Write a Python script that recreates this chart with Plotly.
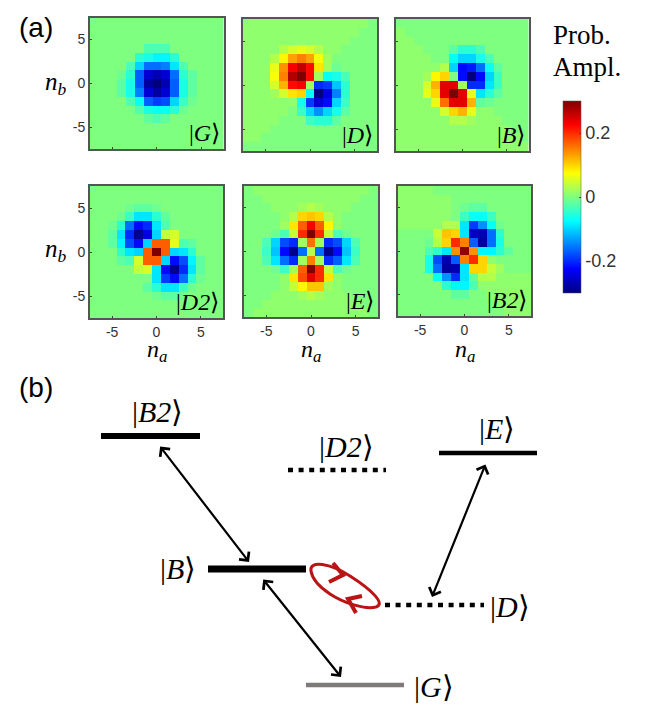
import numpy as np
import plotly.graph_objects as go

W, H = 649, 714
cells = list(range(-7, 8))
rows_top_down = list(range(7, -8, -1))
ticks = [-5, 0, 5]
tick_labels = ["-5", "0", "5"]
cbar_ticks = [-0.2, 0, 0.2]
cbar_labels = ["-0.2", "0", "0.2"]

# amplitudes in hundredths, written from the top row to the bottom row
G = [
 [0,0,0,0,0,0,0,0,0,0,0,0,0,0,0],
 [0,0,0,0,0,0,0,0,0,0,0,0,0,0,0],
 [0,0,0,0,0,0,0,0,0,0,0,0,0,0,0],
 [0,0,0,0,0,0,-3,-3,-3,0,0,0,0,0,0],
 [0,0,0,0,0,-5,-6,-8,-8,-5,0,0,0,0,0],
 [0,0,0,0,-3,-10,-16,-16,-15,-9,-3,0,0,0,0],
 [0,0,0,-1,-5,-17,-25,-27,-25,-16,-5,-2,0,0,0],
 [0,0,0,-2,-6,-17,-28,-30,-27,-17,-6,-2,0,0,0],
 [0,0,0,-2,-6,-15,-25,-28,-25,-17,-6,-2,0,0,0],
 [0,0,0,0,-3,-7,-17,-19,-18,-10,-4,-1,0,0,0],
 [0,0,0,0,0,-3,-6,-7,-7,-5,-1,0,0,0,0],
 [0,0,0,0,0,0,-2,-3,-2,0,0,0,0,0,0],
 [0,0,0,0,0,0,0,0,0,0,0,0,0,0,0],
 [0,0,0,0,0,0,0,0,0,0,0,0,0,0,0],
 [0,0,0,0,0,0,0,0,0,0,0,0,0,0,0],
]
D = [
 [1,1,1,1,1,1,1,1,1,1,1,1,1,1,0],
 [1,1,1,1,1,1,1,1,1,1,1,1,1,0,0],
 [1,1,1,1,1,1,1,1,1,1,1,1,0,0,0],
 [1,1,1,1,3,5,6,5,3,1,1,0,0,0,0],
 [1,1,1,3,8,13,15,13,7,2,0,0,0,0,0],
 [1,1,1,6,14,23,26,22,9,2,-1,0,0,0,0],
 [1,1,1,7,15,27,30,22,2,-7,-6,-3,0,0,0],
 [1,1,1,5,12,22,23,2,-20,-19,-11,-5,0,0,0],
 [1,1,1,2,5,9,10,-7,-30,-24,-15,-5,0,0,0],
 [1,1,1,1,1,1,-6,-19,-25,-22,-10,-4,0,0,0],
 [1,1,1,1,1,0,-4,-10,-14,-10,-6,-2,0,0,0],
 [1,1,1,1,0,0,0,-4,-5,-5,-2,0,0,0,0],
 [1,1,1,0,0,0,0,0,0,0,0,0,0,0,0],
 [1,1,0,0,0,0,0,0,0,0,0,0,0,0,0],
 [0,0,0,0,0,0,0,0,0,0,0,0,0,0,0],
]
B = [
 [0,0,0,0,0,0,0,0,0,0,0,0,0,0,0],
 [1,0,0,0,0,0,0,0,0,0,0,0,0,0,0],
 [1,1,0,0,0,0,0,0,0,0,0,0,0,0,0],
 [1,1,1,0,0,0,-2,-5,-5,-3,0,0,0,0,0],
 [1,1,1,1,0,0,-7,-10,-10,-6,-3,0,0,0,0],
 [1,1,1,1,1,3,-10,-22,-21,-16,-7,-2,0,0,0],
 [1,1,1,2,8,10,0,-22,-30,-22,-10,-4,0,0,0],
 [1,1,1,5,12,24,24,2,-20,-20,-9,-4,0,0,0],
 [1,1,1,6,10,24,30,24,6,-9,-5,-2,0,0,0],
 [1,1,1,1,6,16,24,24,12,-2,-1,0,0,0,0],
 [1,1,1,1,1,5,10,12,6,1,1,0,0,0,0],
 [1,1,1,1,1,1,3,3,2,1,1,1,0,0,0],
 [1,1,1,1,1,1,1,1,1,1,1,1,1,0,0],
 [1,1,1,1,1,1,1,1,1,1,1,1,1,1,0],
 [1,1,1,1,1,1,1,1,1,1,1,1,1,1,1],
]
D2 = [
 [0,0,0,0,0,0,0,0,0,0,0,0,0,0,0],
 [0,0,0,0,0,0,0,0,0,0,0,0,0,0,0],
 [0,0,0,0,-1,-2,-2,-1,0,0,0,0,0,0,0],
 [0,0,0,-1,-4,-9,-9,-5,-2,0,0,0,0,0,0],
 [0,0,-1,-5,-16,-22,-20,-9,-3,0,0,0,0,0,0],
 [0,0,-2,-9,-20,-29,-24,-10,4,5,0,0,0,0,0],
 [0,0,-2,-8,-18,-22,-10,17,17,6,-3,-2,0,0,0],
 [0,0,0,-5,-9,-10,17,30,17,-10,-9,-5,0,0,0],
 [0,0,0,-2,-3,5,17,17,-10,-22,-18,-8,-2,0,0],
 [0,0,0,0,0,4,5,-9,-22,-29,-20,-9,-2,0,0],
 [0,0,0,0,0,0,0,-9,-19,-22,-16,-5,-1,0,0],
 [0,0,0,0,0,0,-2,-5,-9,-9,-4,-1,0,0,0],
 [0,0,0,0,0,0,0,-1,-2,-2,-1,0,0,0,0],
 [0,0,0,0,0,0,0,0,0,0,0,0,0,0,0],
 [0,0,0,0,0,0,0,0,0,0,0,0,0,0,0],
]
E = [
 [0,1,1,1,1,1,1,1,1,1,1,1,1,1,0],
 [0,0,1,1,1,1,1,1,1,1,1,1,1,0,0],
 [0,0,0,1,1,1,2,3,2,1,1,1,0,0,0],
 [0,0,0,0,1,3,10,11,10,3,1,0,0,0,0],
 [0,0,0,0,2,9,17,23,17,8,1,0,0,0,0],
 [0,0,0,-1,-3,4,20,30,20,4,-3,-1,0,0,0],
 [0,0,-3,-10,-18,-20,2,16,2,-20,-18,-10,-3,0,0],
 [0,0,-4,-11,-22,-29,-16,3,-16,-29,-22,-11,-4,0,0],
 [0,0,-3,-9,-16,-20,2,15,2,-20,-17,-9,-3,0,0],
 [0,0,0,-1,-4,2,17,30,20,4,-3,-1,0,0,0],
 [0,0,0,0,1,9,18,24,20,9,1,0,0,0,0],
 [0,0,0,0,1,4,8,11,11,2,1,0,0,0,0],
 [0,0,0,1,1,1,2,3,2,1,1,1,0,0,0],
 [0,0,1,1,1,1,1,1,1,1,1,1,1,0,0],
 [0,1,1,1,1,1,1,1,1,1,1,1,1,1,0],
]
B2 = [
 [1,1,1,1,0,0,0,0,0,0,0,0,0,0,0],
 [1,1,1,1,1,1,0,0,0,0,0,0,0,0,0],
 [1,1,1,1,1,1,0,-1,-2,-2,0,0,0,0,0],
 [1,1,1,1,1,1,0,-4,-7,-7,-4,0,0,0,0],
 [1,1,1,1,1,3,3,-9,-19,-14,-7,-1,0,0,0],
 [0,0,0,0,4,11,10,-9,-26,-27,-16,-5,0,0,0],
 [0,0,0,-1,3,10,20,15,-17,-28,-16,-6,0,0,0],
 [0,0,0,-3,-5,-9,14,29,14,-8,-8,-5,-2,0,0],
 [0,0,0,-6,-18,-27,-17,15,20,10,1,0,0,0,0],
 [0,0,0,-6,-16,-28,-27,-9,10,10,4,2,0,0,0],
 [0,0,0,0,-7,-14,-20,-9,-2,3,3,1,1,1,1],
 [0,0,0,0,0,-5,-8,-8,-3,1,1,1,1,1,1],
 [0,0,0,0,0,0,-2,-2,0,0,1,1,1,1,1],
 [0,0,0,0,0,0,0,0,0,0,0,1,1,1,1],
 [0,0,0,0,0,0,0,0,0,0,0,0,1,1,1],
]
panel_grids = [G, D, B, D2, E, B2]
panel_names = ["G", "D", "B", "D2", "E", "B2"]

# level diagram, in the overlay's units
level_names = ["B2", "D2", "E", "B", "D", "G"]
level_left = [101, 288, 439, 208, 385, 306]
level_right = [200, 386, 537, 306, 484, 404]
level_height = [436, 470, 453, 569, 605, 685]
level_dash = ["solid", "5px,5.6px", "solid", "solid", "5px,5.6px", "solid"]
level_width = [6, 4.5, 4.5, 7, 4.5, 4.5]
level_color = ["black", "black", "black", "black", "black", "#7f7a7a"]
label_x = [157, 346, 497, 178, 510, 434]
label_y = [412, 446, 428, 568, 606, 686]
arrow_from = [(159, 445), (486, 463), (262, 578)]
arrow_to = [(249, 562), (432, 597), (341, 677)]

frames = [(90, 223.5, 17.5, 149), (243, 377, 19, 151), (396, 528.5, 19, 151),
          (90, 223, 186, 318), (244, 378, 186, 317), (398, 531, 186, 316)]

JET = [[0, "#00007f"], [0.125, "#0000ff"], [0.375, "#00ffff"], [0.5, "#7fff7f"],
       [0.625, "#ffff00"], [0.875, "#ff0000"], [1, "#7f0000"]]
SERIF = "Liberation Serif"
SANS = "Liberation Sans"

fig = go.Figure()
layout = dict(width=W, height=H, margin=dict(l=0, r=0, t=0, b=0), paper_bgcolor="white",
              plot_bgcolor="rgba(0,0,0,0)", showlegend=False,
              coloraxis=dict(cmin=-0.3, cmax=0.3, colorscale=JET, colorbar=dict(
                  x=563/W, xanchor="left", y=1-293/H, yanchor="bottom", len=192, lenmode="pixels",
                  thickness=18, thicknessmode="pixels", xpad=0, ypad=0, tickvals=cbar_ticks,
                  ticktext=cbar_labels, ticks="inside", ticklen=2, tickcolor="#444",
                  tickfont=dict(family=SANS, size=18, color="#333"), outlinewidth=0.5,
                  outlinecolor="#555")))
annotations = []

def text(x, y, s, size=20, family=SERIF, color="black", anchor="center"):
    annotations.append(dict(xref="paper", yref="paper", x=x/W, y=1-y/H, text=s, showarrow=False,
                            xanchor=anchor, yanchor="middle",
                            font=dict(family=family, size=size, color=color)))

def ket(name):
    return f"|<i>{name}</i>⟩"

for i, (grid, frame) in enumerate(zip(panel_grids, frames)):
    n = i + 1
    suffix = "" if n == 1 else str(n)
    x0, x1, y0, y1 = frame
    fig.add_trace(go.Heatmap(x=cells, y=rows_top_down, z=np.array(grid)/100, coloraxis="coloraxis",
                             xaxis=f"x{suffix}", yaxis=f"y{suffix}", hoverongaps=False))
    common = dict(range=[-7.5, 7.5], tickvals=ticks, ticktext=tick_labels, ticks="inside", ticklen=2,
                  tickcolor="#444", showline=True, mirror=True, linecolor="#555", linewidth=2,
                  showgrid=False, zeroline=False, tickfont=dict(family=SANS, size=14, color="#333"))
    layout[f"xaxis{suffix}"] = dict(common, domain=[x0/W, x1/W], anchor=f"y{suffix}",
                                    showticklabels=i >= 3)
    layout[f"yaxis{suffix}"] = dict(common, domain=[1-y1/H, 1-y0/H], anchor=f"x{suffix}",
                                    showticklabels=i in (0, 3))
    text(x1 - 2, y1 - 16, ket(panel_names[i]), size=24, anchor="right")

for yy in (83, 251):
    text(56, yy, "<i>n<sub>b</sub></i>", size=25)
for xx in (157, 311, 465):
    text(xx, 351, "<i>n<sub>a</sub></i>", size=24)

# invisible overlay spanning the whole page, for the level diagram
layout["xaxis7"] = dict(domain=[0, 1], range=[0, W], visible=False, anchor="y7", fixedrange=True)
layout["yaxis7"] = dict(domain=[0, 1], range=[H, 0], visible=False, anchor="x7", fixedrange=True)
for j in range(len(level_names)):
    fig.add_trace(go.Scatter(x=[level_left[j], level_right[j]], y=[level_height[j]]*2, mode="lines",
                             line=dict(color=level_color[j], width=level_width[j], dash=level_dash[j]),
                             xaxis="x7", yaxis="y7", hoverinfo="skip"))
    text(label_x[j], label_y[j], ket(level_names[j]), size=30)

for a, b in zip(arrow_from, arrow_to):
    annotations.append(dict(xref="x7", yref="y7", axref="x7", ayref="y7", x=b[0], y=b[1], ax=a[0], ay=a[1],
                            text="", showarrow=True, arrowside="end+start", arrowhead=4, startarrowhead=4,
                            arrowsize=1.1, startarrowsize=1.1, arrowwidth=2.2, arrowcolor="black"))

RED = "#bb1414"
shapes = [
    dict(type="path", xref="x7", yref="y7", line=dict(color=RED, width=3),
         path="M 311 571 C 309 560, 330 563, 350 576 C 372 590, 386 604, 376 607 "
              "C 364 610, 342 602, 330 594 C 318 586, 312 578, 311 571 Z"),
    dict(type="path", xref="x7", yref="y7", line=dict(color=RED, width=4),
         path="M 333 563 L 343 575 L 329 582"),
    dict(type="path", xref="x7", yref="y7", line=dict(color=RED, width=4),
         path="M 362 596 L 348 599 L 356 613"),
]

text(17, 28, "(a)", size=28, family=SANS, anchor="left")
text(17, 387, "(b)", size=28, family=SANS, anchor="left")
text(551, 35, "Prob.", size=27, anchor="left")
text(551, 67, "Ampl.", size=27, anchor="left")

layout["annotations"] = annotations
layout["shapes"] = shapes
fig.update_layout(**layout)
fig.write_html("out.html", config={"displayModeBar": False},
               post_script="document.body.style.margin='0';")
